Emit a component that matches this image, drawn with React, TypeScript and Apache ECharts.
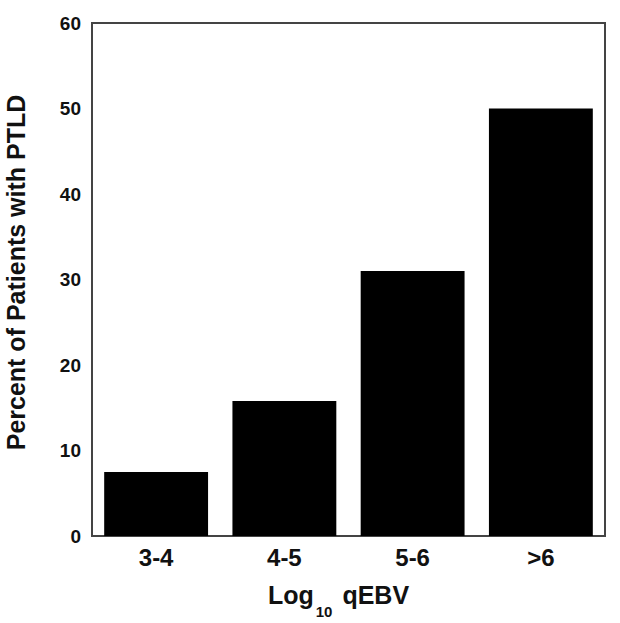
import React, { useEffect, useRef } from "react";
import * as echarts from "echarts";

const categories = ["3-4", "4-5", "5-6", ">6"];
const percentValues = [7.5, 15.8, 31, 50];
const yTicks = [0, 10, 20, 30, 40, 50, 60];

const FONT = "Liberation Sans, Arial, sans-serif";

export default function App() {
  const ref = useRef<HTMLDivElement>(null);
  useEffect(() => {
    if (!ref.current) return;
    const chart = echarts.init(ref.current, null, { renderer: "svg" });
    chart.setOption({
      animation: false,
      backgroundColor: "#ffffff",
      textStyle: { fontFamily: FONT },
      grid: {
        left: 92,
        right: 15,
        top: 23,
        bottom: 87,
        show: true,
        borderColor: "#444",
        borderWidth: 2,
        backgroundColor: "transparent",
        outerBoundsMode: "none",
        containLabel: false,
      },
      xAxis: {
        type: "category",
        data: categories,
        axisLine: { show: true, lineStyle: { color: "#444", width: 2 } },
        axisTick: { show: false },
        axisLabel: {
          color: "#111",
          fontSize: 24,
          fontWeight: "bold",
          margin: 9,
          fontFamily: FONT,
        },
        name: "{a|Log}{s|10}{b| qEBV}",
        nameLocation: "middle",
        nameGap: 46,
        nameTextStyle: {
          rich: {
            a: { fontSize: 25, fontWeight: "bold", color: "#111", fontFamily: FONT, verticalAlign: "top", lineHeight: 28 },
            b: { fontSize: 25, fontWeight: "bold", color: "#111", fontFamily: FONT, verticalAlign: "top", lineHeight: 28, padding: [0, 20, 0, 0] },
            s: { fontSize: 15, fontWeight: "bold", color: "#111", verticalAlign: "bottom", padding: [22, 3, 0, 2], fontFamily: FONT },
          },
        },
      },
      yAxis: {
        type: "value",
        min: yTicks[0],
        max: yTicks[yTicks.length - 1],
        interval: 10,
        splitLine: { show: false },
        axisLine: { show: true, lineStyle: { color: "#444", width: 2 } },
        axisTick: { show: false },
        axisLabel: {
          color: "#111",
          fontSize: 19,
          fontWeight: "bold",
          margin: 11,
          fontFamily: FONT,
        },
        name: "Percent of Patients with PTLD",
        nameLocation: "middle",
        nameGap: 64,
        nameTextStyle: {
          fontSize: 25,
          fontWeight: "bold",
          color: "#111",
          fontFamily: FONT,
          padding: [0, 0, 0, 14],
        },
      },
      series: [
        {
          type: "bar",
          data: percentValues,
          barWidth: "81%",
          itemStyle: { color: "#000" },
        },
      ],
    });
    return () => chart.dispose();
  }, []);
  return <div ref={ref} style={{ width: 620, height: 623, position: "absolute", left: 0, top: 0 }} />;
}
